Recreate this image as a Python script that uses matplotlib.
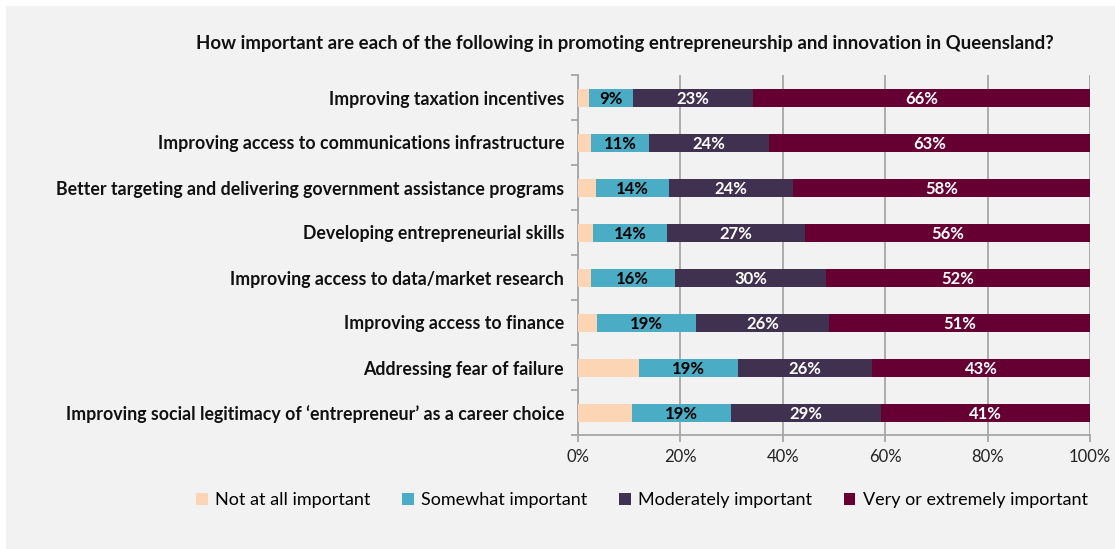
import matplotlib
matplotlib.use("Agg")
import matplotlib.pyplot as plt
from matplotlib.patches import Rectangle, Patch
import numpy as np

plt.rcParams['font.family'] = ['Lato', 'DejaVu Sans']

categories = [
    "Improving taxation incentives",
    "Improving access to communications infrastructure",
    "Better targeting and delivering government assistance programs",
    "Developing entrepreneurial skills",
    "Improving access to data/market research",
    "Improving access to finance",
    "Addressing fear of failure",
    "Improving social legitimacy of \u2018entrepreneur\u2019 as a career choice",
]
not_at_all = [2.2, 2.6, 3.5, 3.0, 2.5, 3.7, 12.0, 10.6]
somewhat = [8.6, 11.2, 14.2, 14.3, 16.4, 19.4, 19.2, 19.2]
moderately = [23.4, 23.6, 24.3, 27.0, 29.6, 25.9, 26.2, 29.3]
very = [65.8, 62.6, 58.0, 55.7, 51.5, 51.0, 42.6, 40.9]

series_names = ["Not at all important", "Somewhat important",
                "Moderately important", "Very or extremely important"]
series_values = [not_at_all, somewhat, moderately, very]
colors = ["#FCD5B5", "#4BACC6", "#403151", "#660033"]
label_colors = [None, "black", "white", "white"]
xticks = [0, 20, 40, 60, 80, 100]

W, H = 1115, 549
fig = plt.figure(figsize=(W / 100, H / 100), dpi=100)
fig.patch.set_facecolor("white")
fig.patches.append(Rectangle((6 / W, 0), 1 - 6 / W, 1 - 6 / H, transform=fig.transFigure,
                             facecolor="#F2F2F2", edgecolor="none", zorder=-10))

ax = fig.add_axes([578 / W, 1 - 435 / H, 512 / W, 360 / H])
ax.set_facecolor("none")

y = np.arange(len(categories))
left = np.zeros(len(categories))
for vals, col, lc in zip(series_values, colors, label_colors):
    vals = np.array(vals)
    ax.barh(y, vals, left=left, height=0.4, color=col, edgecolor="none", zorder=3)
    if lc is not None:
        for yi, l, v in zip(y, left, vals):
            ax.text(l + v / 2, yi + 0.04, f"{round(v):d}%", ha="center", va="center",
                    color=lc, fontsize=12, fontweight="bold", zorder=4)
    left += vals

ax.set_xlim(0, 100)
ax.set_ylim(len(categories) - 0.5, -0.5)
ax.set_xticks(xticks)
ax.set_xticklabels([f"{t}%" for t in xticks], fontsize=12, color="#222222")
ax.xaxis.grid(True, color="#A6A6A6", linewidth=1.3, zorder=0)
ax.set_axisbelow(True)

ax.set_yticks(y)
ax.set_yticklabels(categories, fontsize=12.8, fontweight="bold", color="#111111")
ax.set_yticks(np.arange(len(categories) + 1) - 0.5, minor=True)
ax.tick_params(axis="y", which="major", length=0, pad=10)
ax.tick_params(axis="y", which="minor", length=5, color="#A6A6A6", width=1.3)
ax.tick_params(axis="x", which="major", length=5, color="#A6A6A6", width=1.3, pad=5)

for s in ["top", "right"]:
    ax.spines[s].set_visible(False)
for s in ["left", "bottom"]:
    ax.spines[s].set_color("#A6A6A6")
    ax.spines[s].set_linewidth(1.3)

fig.text(625 / W, 1 - 44 / H,
         "How important are each of the following in promoting entrepreneurship and innovation in Queensland?",
         ha="center", va="center", fontsize=13.4, fontweight="bold", color="#111111")

handles = [Patch(facecolor=c, edgecolor="none") for c in colors]
fig.legend(handles, series_names, loc="center", bbox_to_anchor=(642 / W, 1 - 500 / H),
           ncol=4, frameon=False, fontsize=13, handlelength=0.65, handleheight=0.65,
           handletextpad=0.4, columnspacing=1.75)

fig.savefig("out.png", dpi=100)
